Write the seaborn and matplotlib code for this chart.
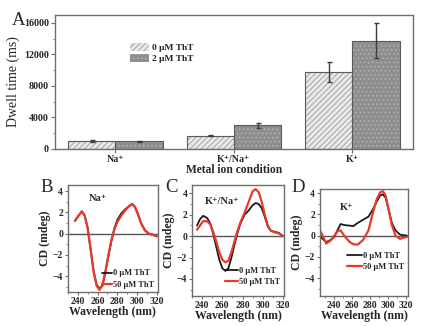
import matplotlib
matplotlib.use("Agg")
import matplotlib.pyplot as plt
from matplotlib.patches import Rectangle
from matplotlib.lines import Line2D
from matplotlib.container import BarContainer
import seaborn as sns
import pandas as pd
import numpy as np

# ---------------- data ----------------
conditions = ["Na\u207a", "K\u207a/Na\u207a", "K\u207a"]
tht_levels = ["0 \u03bcM ThT", "2 \u03bcM ThT"]
dwell_0 = [1000, 1700, 9750]
dwell_2 = [970, 3000, 13750]
err_0 = [100, 100, 1250]
err_2 = [80, 350, 2250]

cd_legend = ["0 \u03bcM ThT", "50 \u03bcM ThT"]

# Panel B (Na+)
wl_b = [237, 240, 244, 247, 250, 253, 256, 259, 262, 265, 268, 271, 274, 277, 280,
        284, 288, 292, 295, 298, 301, 304, 308, 312, 316, 320]
cd_b0 = [1.2, 1.6, 2.1, 1.7, 0.5, -1.5, -3.5, -4.8, -5.15, -4.9, -3.6, -2.1, -0.7, 0.5, 1.3,
         1.9, 2.3, 2.6, 2.8, 2.5, 1.8, 1.0, 0.3, 0.0, -0.1, -0.25]
cd_b50 = [1.2, 1.6, 2.1, 1.7, 0.5, -1.5, -3.6, -4.9, -5.3, -4.8, -3.5, -2.0, -0.6, 0.4, 1.1,
          1.7, 2.2, 2.6, 2.8, 2.5, 1.8, 1.0, 0.3, 0.0, -0.1, -0.25]

# Panel C (K+/Na+)
wl_c = [235, 238, 241, 245, 248, 251, 254, 257, 260, 263, 266, 269, 272, 275, 278,
        282, 286, 290, 293, 296, 299, 302, 305, 308, 312, 316, 320]
cd_c0 = [1.0, 1.6, 1.9, 1.7, 1.2, 0.2, -1.0, -2.2, -3.0, -3.25, -3.0, -2.0, -0.8, 0.3, 1.2,
         2.0, 2.4, 2.9, 3.1, 3.0, 2.6, 1.8, 0.9, 0.5, 0.4, 0.3, 0.0]
cd_c50 = [0.6, 1.0, 1.4, 1.4, 1.1, 0.4, -0.5, -1.5, -2.2, -2.45, -2.3, -1.5, -0.5, 0.5, 1.3,
          2.2, 3.2, 4.2, 4.4, 4.1, 3.2, 2.0, 1.0, 0.5, 0.35, 0.25, 0.0]

# Panel D (K+)
wl_d = [224, 227, 231, 236, 240, 244, 247, 251, 257, 261, 266, 272, 278, 283, 287,
        291, 294, 297, 300, 304, 308, 313, 317, 321]
cd_d0 = [0.0, -0.3, -0.6, -0.4, -0.1, 0.6, 1.1, 1.0, 0.95, 0.9, 1.2, 1.5, 1.8, 2.5, 3.2,
         3.8, 3.9, 3.6, 2.6, 1.2, 0.5, 0.1, 0.05, 0.0]
cd_d50 = [0.5, 0.0, -0.75, -0.45, 0.0, 0.45, 0.5, 0.0, -0.6, -0.8, -0.85, -0.4, 0.5, 2.2, 3.4,
          4.1, 4.2, 3.8, 2.6, 1.0, 0.0, -0.3, -0.2, -0.1]

# ---------------- style ----------------
sns.set_style("ticks")
serif = ["Liberation Serif", "DejaVu Serif"]
plt.rcParams["font.family"] = serif
plt.rcParams["hatch.linewidth"] = 0.6
plt.rcParams["axes.edgecolor"] = "#6e6e6e"
plt.rcParams["axes.linewidth"] = 1.0

fig = plt.figure(figsize=(4.30, 3.26), dpi=100)

# ---------------- Panel A ----------------
axA = fig.add_axes([0.128, 0.543, 0.832, 0.411])
df = pd.DataFrame({
    "cond": conditions * 2,
    "tht": [tht_levels[0]] * 3 + [tht_levels[1]] * 3,
    "val": dwell_0 + dwell_2,
})
sns.barplot(data=df, x="cond", y="val", hue="tht", hue_order=tht_levels,
            order=conditions, palette=["#e9e9e9", "#8e8e8e"], errorbar=None,
            width=0.8, ax=axA, legend=False)
hatches = ["//////", "...."]
hatch_cols = ["#9a9a9a", "#b4b4b4"]
errs = [err_0, err_2]
bar_conts = [c for c in axA.containers if isinstance(c, BarContainer)]
for ci, cont in enumerate(bar_conts):
    for bi, p in enumerate(list(cont.patches)):
        p.set_hatch(hatches[ci])
        p.set_edgecolor(hatch_cols[ci])
        p.set_linewidth(0)
        axA.add_patch(Rectangle(p.get_xy(), p.get_width(), p.get_height(),
                                fill=False, edgecolor="#5a5a5a", lw=0.8, zorder=3))
        axA.errorbar(p.get_x() + p.get_width() / 2, p.get_height(), yerr=errs[ci][bi],
                     fmt="none", ecolor="#3a3a3a", elinewidth=1.0, capsize=1.8,
                     capthick=1.0, zorder=4)
axA.set_xlim(-0.51, 2.51)
axA.set_ylim(0, 17000)
axA.set_yticks([0, 4000, 8000, 12000, 16000])
axA.set_yticks(np.arange(0, 17000, 2000), minor=True)
axA.tick_params(axis="both", labelsize=7.2, length=3, width=0.8, color="#6e6e6e", pad=1.5)
axA.tick_params(axis="y", which="minor", length=1.8, width=0.6, color="#6e6e6e")
for lab in axA.get_xticklabels() + axA.get_yticklabels():
    lab.set_fontweight("bold")
axA.set_ylabel("Dwell time (ms)", fontsize=10, labelpad=3)
axA.set_xlabel("Metal ion condition", fontsize=8.3, fontweight="bold", labelpad=0)
for s in axA.spines.values():
    s.set_visible(True)
    s.set_color("#6e6e6e")

handles = [Rectangle((0, 0), 1, 1, facecolor="#e9e9e9", edgecolor="#9a9a9a", hatch="//////", lw=0),
           Rectangle((0, 0), 1, 1, facecolor="#8e8e8e", edgecolor="#b4b4b4", hatch="....", lw=0)]
legA = axA.legend(handles, tht_levels, loc="upper left", bbox_to_anchor=(0.2, 0.82),
                  frameon=False, prop={"family": serif, "weight": "bold", "size": 6.8},
                  handlelength=2.0, handleheight=0.9, handletextpad=0.3, labelspacing=0.2,
                  borderaxespad=0)
fig.text(0.028, 0.923, "A", fontsize=13.5, family=serif)


# ---------------- CD panels ----------------
def cd_panel(rect, wl, y0, y50, xlim, ylim, xticks, label, ion, ion_xy, letter_xy,
             leg_anchor, hlen):
    ax = fig.add_axes(rect)
    d = pd.DataFrame({"wl": wl * 2, "cd": y0 + y50,
                      "s": [cd_legend[0]] * len(wl) + [cd_legend[1]] * len(wl)})
    ax.axhline(0, color="#555555", lw=1.0, zorder=1)
    sns.lineplot(data=d, x="wl", y="cd", hue="s", hue_order=cd_legend,
                 palette=["#1a1a1a", "#e8392b"], ax=ax, legend=False, zorder=2)
    lines = ax.get_lines()
    lines[1].set_linewidth(1.3)
    lines[2].set_linewidth(1.6)
    ax.set_xlim(*xlim)
    ax.set_ylim(*ylim)
    ax.set_xticks(xticks)
    ax.set_yticks([-4, -2, 0, 2, 4])
    ax.set_yticks([-5, -3, -1, 1, 3], minor=True)
    ax.set_xticks(np.arange(xticks[0] - 10, 330, 10), minor=True)
    ax.tick_params(axis="both", labelsize=7, length=2.5, width=0.8, color="#6e6e6e", pad=1)
    ax.tick_params(which="minor", length=1.5, width=0.6, color="#6e6e6e")
    for lab in ax.get_xticklabels() + ax.get_yticklabels():
        lab.set_fontweight("bold")
    ax.set_xlabel("Wavelength (nm)", fontsize=8.5, fontweight="bold", labelpad=0)
    ax.set_ylabel("CD (mdeg)", fontsize=8.5, fontweight="bold", labelpad=1)
    for s in ax.spines.values():
        s.set_visible(True)
        s.set_color("#6e6e6e")
    ax.text(*ion_xy, ion, transform=ax.transAxes, fontsize=7.5, fontweight="bold",
            ha="center", va="center", family=serif)
    h = [Line2D([], [], color="#1a1a1a", lw=1.3), Line2D([], [], color="#e8392b", lw=1.6)]
    ax.legend(h, cd_legend, loc="lower right", bbox_to_anchor=leg_anchor, frameon=False,
              prop={"family": serif, "weight": "bold", "size": 6},
              handlelength=hlen, handletextpad=0.2, labelspacing=0.4,
              borderaxespad=0.0)
    fig.text(*letter_xy, label, fontsize=13.5, family=serif)
    return ax


cd_panel([0.158, 0.104, 0.209, 0.329], wl_b, cd_b0, cd_b50, (237, 321), (-5.5, 4.6),
         [240, 260, 280, 300, 320], "B", "Na\u207a", (0.33, 0.87), (0.093, 0.411),
         (1.0, 0.0), 1.1)
cd_panel([0.4465, 0.092, 0.214, 0.341], wl_c, cd_c0, cd_c50, (235, 321), (-5.6, 4.8),
         [240, 260, 280, 300, 320], "C", "K\u207a/Na\u207a", (0.33, 0.85), (0.384, 0.411),
         (1.0, 0.06), 1.5)
cd_panel([0.744, 0.092, 0.205, 0.328], wl_d, cd_d0, cd_d50, (224, 322), (-5.7, 4.4),
         [240, 260, 280, 300, 320], "D", "K\u207a", (0.3, 0.83), (0.678, 0.411),
         (1.0, 0.2), 1.8)

fig.savefig("out.png", dpi=100)
